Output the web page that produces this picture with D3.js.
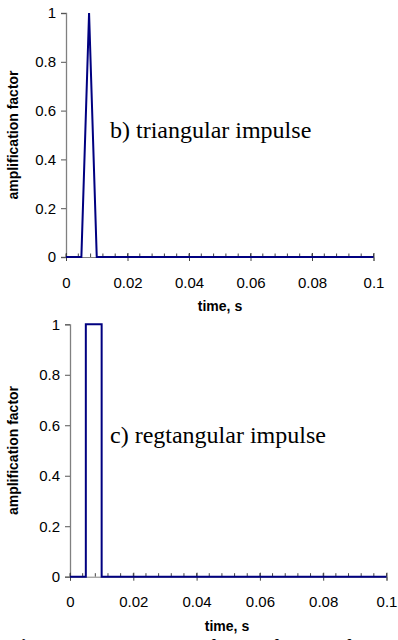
<!DOCTYPE html>
<html>
<head>
<meta charset="utf-8">
<script src="https://cdn.jsdelivr.net/npm/d3@7"></script>
<style>
  body { margin: 0; background: #fff; }
  svg { display: block; }
</style>
</head>
<body>
<div id="chart"></div>
<script>
// data
const triTime = [0, 0.005, 0.0075, 0.01, 0.1];
const triAmp = [0, 0, 1, 0, 0];
const rectTime = [0, 0.005, 0.005, 0.01, 0.01, 0.1];
const rectAmp = [0, 0, 1, 1, 0, 0];

const xTicks = [0, 0.02, 0.04, 0.06, 0.08, 0.1];
const xTickLabels = ['0', '0.02', '0.04', '0.06', '0.08', '0.1'];
const yTicks = [0, 0.2, 0.4, 0.6, 0.8, 1];
const yTickLabels = ['0', '0.2', '0.4', '0.6', '0.8', '1'];
const xMinorStep = 0.004;

const panelLabels = ['b) triangular impulse', 'c) regtangular impulse'];
const xTitle = 'time, s';
const yTitle = 'amplification factor';

const svg = d3.select('#chart')
  .append('svg')
  .attr('width', 398)
  .attr('height', 640);

function drawPanel(cfg, times, amps, label) {
  const x = d3.scaleLinear().domain([0, 0.1]).range([cfg.left, cfg.right]);
  const y = d3.scaleLinear().domain([0, 1]).range([cfg.bottom, cfg.top]);
  const g = svg.append('g');

  // y axis
  const yAxis = g.append('g')
    .attr('transform', `translate(${cfg.left},0)`)
    .call(d3.axisLeft(y).tickValues(yTicks).tickSize(5).tickPadding(5)
      .tickFormat((d, i) => yTickLabels[i]));
  yAxis.select('.domain').attr('stroke', '#808080').attr('stroke-width', 1.3);
  yAxis.selectAll('.tick line').attr('stroke', '#555');
  yAxis.selectAll('.tick text')
    .attr('font-family', 'Liberation Sans, Arial, sans-serif')
    .attr('font-size', 15).attr('fill', '#000');

  // x minor ticks (upward)
  const minor = d3.range(0, 0.1 + 1e-9, xMinorStep);
  g.append('g')
    .selectAll('line')
    .data(minor)
    .enter().append('line')
    .attr('x1', d => x(d)).attr('x2', d => x(d))
    .attr('y1', cfg.bottom).attr('y2', cfg.bottom - 3.5)
    .attr('stroke', '#444').attr('stroke-width', 1);

  // x axis with crossing major ticks
  const xAxis = g.append('g')
    .attr('transform', `translate(0,${cfg.bottom})`)
    .call(d3.axisBottom(x).tickValues(xTicks).tickSize(4).tickPadding(16)
      .tickFormat((d, i) => xTickLabels[i]));
  xAxis.select('.domain').attr('stroke', '#808080');
  xAxis.selectAll('.tick line').attr('y1', -4).attr('y2', 4).attr('stroke', '#444');
  xAxis.selectAll('.tick text')
    .attr('font-family', 'Liberation Sans, Arial, sans-serif')
    .attr('font-size', 15).attr('fill', '#000');

  // series line
  const pts = times.map((t, i) => [t, amps[i]]);
  g.append('path')
    .datum(pts)
    .attr('fill', 'none')
    .attr('stroke', '#000080')
    .attr('stroke-width', 2)
    .attr('d', d3.line().x(d => x(d[0])).y(d => y(d[1])));

  // axis titles
  g.append('text')
    .attr('x', cfg.xTitleX).attr('y', cfg.xTitleY)
    .attr('text-anchor', 'middle')
    .attr('font-family', 'Liberation Sans, Arial, sans-serif')
    .attr('font-size', 14).attr('font-weight', 'bold')
    .text(xTitle);
  g.append('text')
    .attr('transform', `translate(18,${(cfg.top + cfg.bottom) / 2}) rotate(-90)`)
    .attr('text-anchor', 'middle')
    .attr('font-family', 'Liberation Sans, Arial, sans-serif')
    .attr('font-size', 14).attr('font-weight', 'bold')
    .text(yTitle);

  // panel annotation
  g.append('text')
    .attr('x', 110).attr('y', cfg.labelY)
    .attr('font-family', 'Liberation Serif, Times New Roman, serif')
    .attr('font-size', 24)
    .text(label);
}

drawPanel({ left: 66, right: 373.5, top: 13, bottom: 257, xTitleX: 220, xTitleY: 311, labelY: 138 },
  triTime, triAmp, panelLabels[0]);
drawPanel({ left: 70, right: 386.5, top: 324.3, bottom: 576.7, xTitleX: 227, xTitleY: 631, labelY: 443 },
  rectTime, rectAmp, panelLabels[1]);

// figure caption, cut off by the bottom edge
const cap = svg.append('text')
  .attr('x', 7).attr('y', 654)
  .attr('font-family', 'Liberation Serif, Times New Roman, serif')
  .attr('font-size', 22);
cap.append('tspan').attr('font-weight', 'bold').text('Figure 7.');
cap.append('tspan').text(' Estimation of amplification factor for different impulses');
</script>
</body>
</html>
